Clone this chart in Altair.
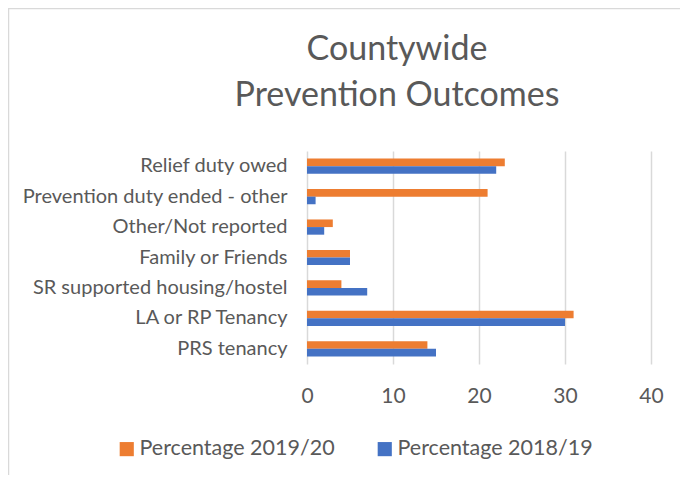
import altair as alt
import pandas as pd

categories = [
    "Relief duty owed",
    "Prevention duty ended - other",
    "Other/Not reported",
    "Family or Friends",
    "SR supported housing/hostel",
    "LA or RP Tenancy",
    "PRS tenancy",
]
series = ["Percentage 2019/20", "Percentage 2018/19"]
values_1920 = [23, 21, 3, 5, 4, 31, 14]
values_1819 = [22, 1, 2, 5, 7, 30, 15]
colors = ["#ED7D31", "#4472C4"]
x_ticks = [0, 10, 20, 30, 40]
title_lines = ["Countywide", "Prevention Outcomes"]

rows = []
for c, a, b in zip(categories, values_1920, values_1819):
    rows.append({"category": c, "series": series[0], "value": a})
    rows.append({"category": c, "series": series[1], "value": b})
df = pd.DataFrame(rows)

FONT = "Lato"
GREY = "#595959"

bars = alt.Chart(df).mark_bar(opacity=1).encode(
    x=alt.X(
        "value:Q",
        scale=alt.Scale(domain=[0, 40], nice=False),
        axis=alt.Axis(
            values=x_ticks,
            title=None,
            domain=False,
            ticks=False,
            grid=True,
            gridColor="#d9d9d9",
            gridWidth=1.5,
            labelFontSize=21,
            labelPadding=21,
            labelColor=GREY,
            labelFont=FONT,
            labelFlush=False,
        ),
    ),
    y=alt.Y(
        "category:N",
        sort=categories,
        scale=alt.Scale(paddingInner=0.5, paddingOuter=0.25),
        axis=alt.Axis(
            title=None,
            domain=False,
            ticks=False,
            grid=False,
            labelFontSize=20,
            labelPadding=20,
            labelColor=GREY,
            labelFont=FONT,
            labelLimit=400,
        ),
    ),
    yOffset=alt.YOffset("series:N", sort=series, scale=alt.Scale(paddingInner=0, paddingOuter=0)),
    color=alt.Color(
        "series:N",
        sort=series,
        scale=alt.Scale(domain=series, range=colors),
        legend=alt.Legend(
            title=None,
            orient="none",
            direction="horizontal",
            legendX=-191,
            legendY=287,
            symbolType="square",
            symbolSize=200,
            symbolStrokeWidth=0,
            symbolOpacity=1,
            labelFontSize=21.5,
            labelFont=FONT,
            labelColor=GREY,
            labelOffset=2,
            columnPadding=39,
            labelLimit=400,
        ),
    ),
)

frame = alt.Chart(pd.DataFrame({"k": [0]})).mark_rect(
    fill="transparent", stroke="#d9d9d9", strokeWidth=1.5, clip=False
).encode(
    x=alt.value(-298.5), x2=alt.value(600), y=alt.value(-142.5), y2=alt.value(600)
)

title_layers = []
for line, ypos in zip(title_lines, [-91, -45]):
    title_layers.append(
        alt.Chart(pd.DataFrame({"line": [line]})).mark_text(
            font=FONT, fontSize=34, color=GREY, align="center", baseline="alphabetic"
        ).encode(text="line:N", x=alt.value(90), y=alt.value(ypos))
    )

chart = alt.layer(frame, bars, *title_layers).properties(
    width=344,
    height=213,
    autosize=alt.AutoSizeParams(type="none"),
    padding={"left": 299, "top": 143, "right": 29, "bottom": 111},
).configure(
    background="white",
    view=alt.ViewConfig(stroke="transparent", strokeWidth=0),
)

chart.save("out.html", embed_options={"renderer": "svg", "actions": False})
